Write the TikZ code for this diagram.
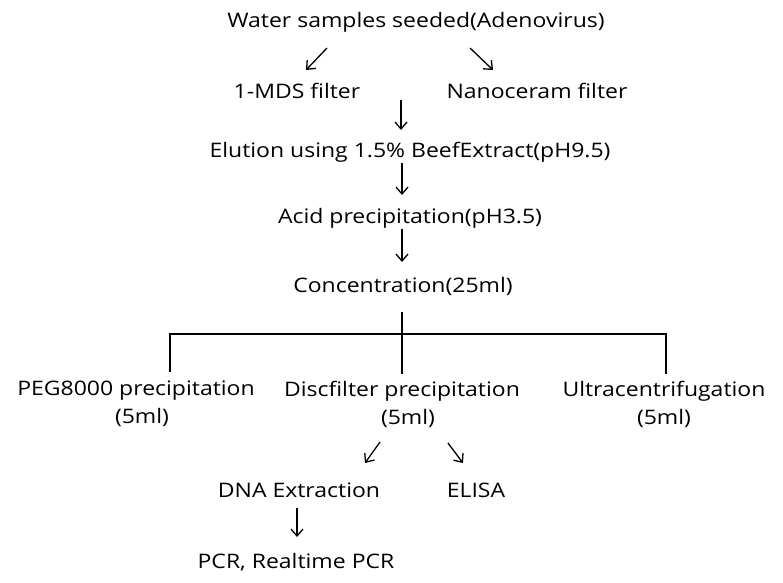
\documentclass[tikz,border=0pt]{standalone}
\usepackage{fontspec}
\setmainfont{Open Sans}[FakeStretch=1.15]
\usetikzlibrary{arrows.meta}
\begin{document}
\begin{tikzpicture}[x=1pt,y=-1pt,
  lbl/.style={inner sep=0pt, font=\fontsize{20}{28}\selectfont, align=center},
  arr/.style={line width=1.3pt, -{Straight Barb[length=7pt,width=12pt,line width=1.3pt]}},
  ln/.style={line width=1.3pt}]
\useasboundingbox (0,0) rectangle (783,582);
\node[lbl] (water) at (416,22) {Water samples seeded(Adenovirus)};
\node[lbl] (mds) at (297,91) {1-MDS filter};
\node[lbl] (nano) at (537,91) {Nanoceram filter};
\node[lbl] (elu) at (410,152) {Elution using 1.5\% BeefExtract(pH9.5)};
\node[lbl] (acid) at (410,218) {Acid precipitation(pH3.5)};
\node[lbl] (conc) at (403,286) {Concentration(25ml)};
\node[lbl] (peg) at (136,404) {PEG8000 precipitation\\\hspace*{12pt}(5ml)};
\node[lbl] (disc) at (402,404) {Discfilter precipitation\\\hspace*{12pt}(5ml)};
\node[lbl] (ultra) at (664,404) {Ultracentrifugation\\(5ml)};
\node[lbl] (dna) at (299,490) {DNA Extraction};
\node[lbl] (elisa) at (476,490) {ELISA};
\node[lbl] (pcr) at (296,562) {PCR, Realtime PCR};
% arrows
\coordinate (a1s) at (327,48); \coordinate (a1e) at (306,70);
\coordinate (a2s) at (470,48); \coordinate (a2e) at (493,70);
\draw[arr] (a1s) -- (a1e);
\draw[arr] (a2s) -- (a2e);
\coordinate (a3s) at (401,100); \coordinate (a3e) at (401,130);
\draw[arr] (a3s) -- (a3e);
\coordinate (a4s) at (402,163); \coordinate (a4e) at (402,195);
\draw[arr] (a4s) -- (a4e);
\coordinate (a5s) at (402,229); \coordinate (a5e) at (402,262);
\draw[arr] (a5s) -- (a5e);
% tree
\coordinate (tc) at (402,312);
\coordinate (tl) at (170,334);
\coordinate (tr) at (666,334);
\draw[ln] (tc) -- (402,374);
\draw[ln] (170,372) -- (tl) -- (tr) -- (666,374);
% lower arrows
\coordinate (a6s) at (380,442); \coordinate (a6e) at (365,463);
\coordinate (a7s) at (448,443); \coordinate (a7e) at (463,463);
\draw[arr] (a6s) -- (a6e);
\draw[arr] (a7s) -- (a7e);
\coordinate (a8s) at (297,508); \coordinate (a8e) at (297,537);
\draw[arr] (a8s) -- (a8e);
\end{tikzpicture}
\end{document}
